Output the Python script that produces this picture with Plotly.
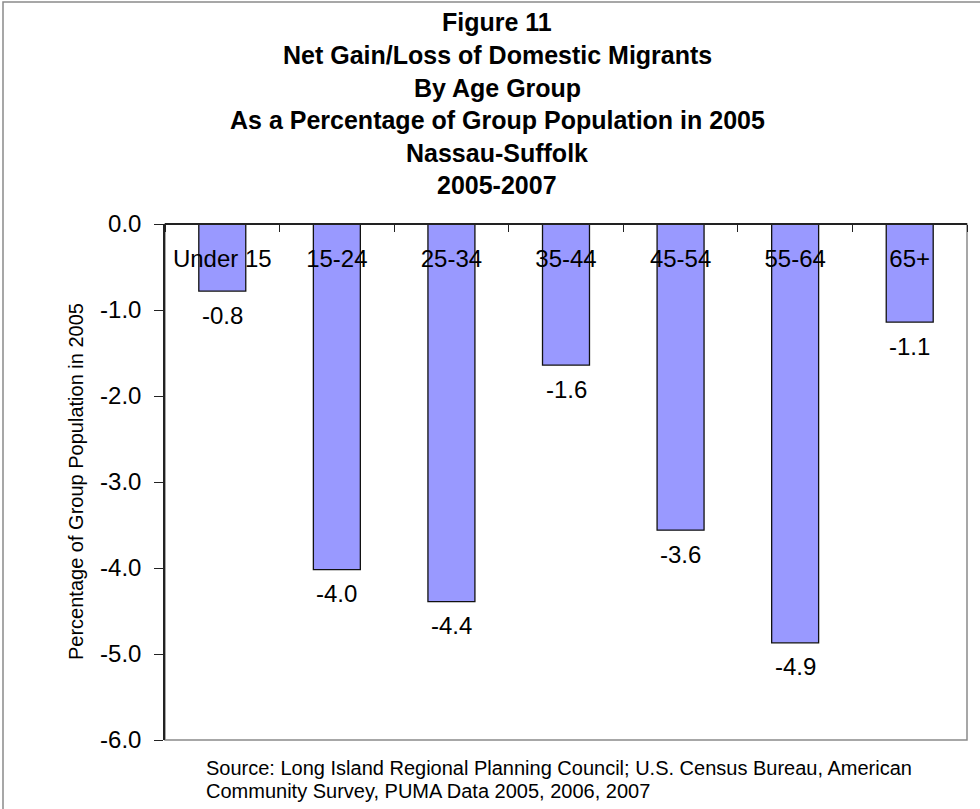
import plotly.graph_objects as go

# Net domestic migration by age group, Nassau-Suffolk, 2005-2007 (% of 2005 group population)
age_groups = ["Under 15", "15-24", "25-34", "35-44", "45-54", "55-64", "65+"]
net_pct = [-0.78, -4.02, -4.39, -1.64, -3.56, -4.87, -1.14]
y_ticks = [0, -1, -2, -3, -4, -5, -6]

title_lines = [
    "Figure 11",
    "Net Gain/Loss of Domestic Migrants",
    "By Age Group",
    "As a Percentage of Group Population in 2005",
    "Nassau-Suffolk",
    "2005-2007",
]
y_title = "Percentage of Group Population in 2005"
source_lines = [
    "Source: Long Island Regional Planning Council; U.S. Census Bureau, American",
    "Community Survey, PUMA Data 2005, 2006, 2007",
]

W, H = 980, 809
L, R, T, B = 165, 13, 224, 69
plot_w = W - L - R
plot_h = H - T - B

def px_x(p):
    return (p - L) / plot_w

def px_y(p):
    return (H - B - p) / plot_h

FONT = "Liberation Sans, Arial, sans-serif"

fig = go.Figure(
    go.Bar(
        x=age_groups,
        y=net_pct,
        width=0.41,
        marker=dict(color="#9999FF", line=dict(color="#111111", width=1.3)),
        hoverinfo="skip",
    )
)

annotations = []
# value labels below each bar end
for cat, v in zip(age_groups, net_pct):
    annotations.append(dict(
        x=cat, y=v, xref="x", yref="y", text=f"{v:.1f}", showarrow=False,
        yanchor="middle", yshift=-24, font=dict(family=FONT, size=24, color="#000"),
    ))

# stacked title lines
title_y = [22, 55, 88, 120, 153, 185]
for line, yp in zip(title_lines, title_y):
    annotations.append(dict(
        x=px_x(497), y=px_y(yp), xref="paper", yref="paper", text=f"<b>{line}</b>",
        showarrow=False, xanchor="center", yanchor="middle",
        font=dict(family=FONT, size=25, color="#000"),
    ))

annotations.append(dict(
    x=px_x(76), y=px_y(482), xref="paper", yref="paper", text=y_title, textangle=-90,
    showarrow=False, xanchor="center", yanchor="middle",
    font=dict(family=FONT, size=20, color="#000"),
))

# source note, two lines
for line, yp in zip(source_lines, [768, 791]):
    annotations.append(dict(
        x=px_x(204), y=px_y(yp), xref="paper", yref="paper", text=line,
        showarrow=False, xanchor="left", yanchor="middle", align="left",
        font=dict(family=FONT, size=20, color="#000"),
    ))

shapes = [
    # outer chart frame
    dict(type="rect", xref="paper", yref="paper", x0=px_x(3), x1=px_x(W + 20),
         y0=px_y(H + 20), y1=px_y(2), line=dict(color="#8a8a8a", width=1.5), layer="below"),
    # plot area frame
    dict(type="rect", xref="paper", yref="paper", x0=0, x1=1, y0=0, y1=1,
         line=dict(color="#8a8a8a", width=1.5), layer="below"),
]

fig.update_layout(
    width=W, height=H,
    margin=dict(l=L, r=R, t=T, b=B),
    paper_bgcolor="white", plot_bgcolor="white",
    showlegend=False,
    annotations=annotations,
    shapes=shapes,
    font=dict(family=FONT, color="#000"),
    xaxis=dict(
        type="category", anchor="free", position=1, side="bottom",
        showline=True, linecolor="#222", linewidth=1.5,
        ticks="outside", tickson="boundaries", ticklen=7, tickcolor="#222", tickwidth=1,
        ticklabelstandoff=13,
        tickfont=dict(family=FONT, size=24, color="#000"),
        showgrid=False, zeroline=False,
    ),
    yaxis=dict(
        range=[-6, 0], tickvals=y_ticks, ticktext=[f"{v:.1f}" for v in y_ticks],
        showline=True, linecolor="#222", linewidth=1.5,
        ticks="outside", ticklen=9, tickcolor="#222", tickwidth=1,
        ticklabelstandoff=8,
        tickfont=dict(family=FONT, size=24, color="#000"),
        showgrid=False, zeroline=False,
    ),
)

fig.write_html("out.html")
